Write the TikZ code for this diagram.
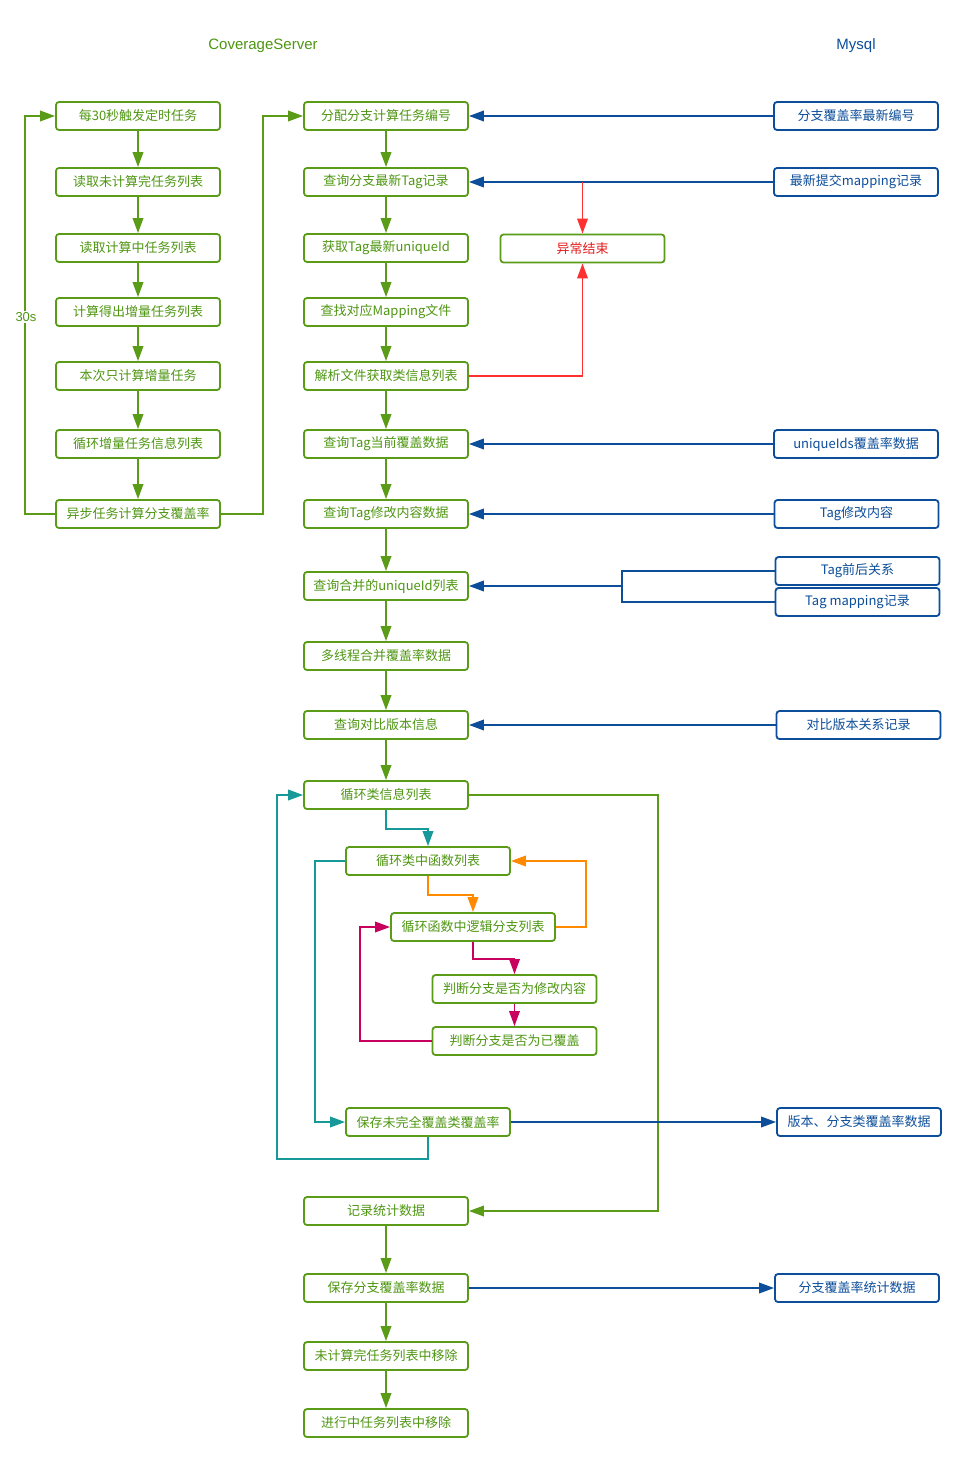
\documentclass[tikz,border=0pt]{standalone}
\usepackage{fontspec}
\newfontfamily\cjk{Noto Sans CJK SC}
\newfontfamily\hdr{Liberation Sans}
\usetikzlibrary{arrows.meta,calc}
\definecolor{gC}{HTML}{5A9C18}
\definecolor{gT}{HTML}{4E9612}
\definecolor{bC}{HTML}{0D4E9A}
\definecolor{rC}{HTML}{FF3030}
\definecolor{rT}{HTML}{E41E1E}
\definecolor{tC}{HTML}{17999A}
\definecolor{oC}{HTML}{FF8A00}
\definecolor{mC}{HTML}{C8005E}
\tikzset{
  gbox/.style={draw=gC, line width=1.8pt, rounded corners=3pt, minimum width=164pt, minimum height=28pt, inner sep=0pt, text=gT, fill=white, font=\cjk\fontsize{13}{15}\selectfont},
  bbox/.style={gbox, draw=bC, text=bC},
  conn/.style={line width=1.9pt, -{Triangle[length=15pt,width=10.5pt]}},
  gar/.style={conn, draw=gC},
  bar/.style={conn, draw=bC},
  rar/.style={conn, draw=rC},
  tar/.style={conn, draw=tC},
  oar/.style={conn, draw=oC},
  mar/.style={conn, draw=mC},
  bline/.style={line width=1.9pt, draw=bC},
}
\begin{document}
\begin{tikzpicture}[x=1pt,y=-1pt]
\useasboundingbox (0,0) rectangle (966,1461);
\fill[white] (0,0) rectangle (966,1461);
% headers
\node[text=gT, font=\hdr\fontsize{15}{17}\selectfont] (hcs) at (263,46) {CoverageServer};
\node[text=bC, font=\hdr\fontsize{15}{17}\selectfont] (hmy) at (856,46) {Mysql};
% left column
\node[gbox] (l1) at (138,116) {每30秒触发定时任务};
\node[gbox] (l2) at (138,182) {读取未计算完任务列表};
\node[gbox] (l3) at (138,248) {读取计算中任务列表};
\node[gbox] (l4) at (138,312) {计算得出增量任务列表};
\node[gbox] (l5) at (138,376) {本次只计算增量任务};
\node[gbox] (l6) at (138,444) {循环增量任务信息列表};
\node[gbox] (l7) at (138,514) {异步任务计算分支覆盖率};
% middle column
\node[gbox] (m1) at (386,116) {分配分支计算任务编号};
\node[gbox] (m2) at (386,182) {查询分支最新Tag记录};
\node[gbox] (m3) at (386,248) {获取Tag最新uniqueId};
\node[gbox] (m4) at (386,312) {查找对应Mapping文件};
\node[gbox] (m5) at (386,376) {解析文件获取类信息列表};
\node[gbox] (m6) at (386,444) {查询Tag当前覆盖数据};
\node[gbox] (m7) at (386,514) {查询Tag修改内容数据};
\node[gbox] (m8) at (386,586) {查询合并的uniqueId列表};
\node[gbox] (m9) at (386,656) {多线程合并覆盖率数据};
\node[gbox] (m10) at (386,725) {查询对比版本信息};
\node[gbox] (m11) at (386,795) {循环类信息列表};
\node[gbox] (m12) at (386,1211) {记录统计数据};
\node[gbox] (m13) at (386,1288) {保存分支覆盖率数据};
\node[gbox] (m14) at (386,1356) {未计算完任务列表中移除};
\node[gbox] (m15) at (386,1423) {进行中任务列表中移除};
% inner loop boxes
\node[gbox] (c1) at (428,861) {循环类中函数列表};
\node[gbox] (c2) at (473,927) {循环函数中逻辑分支列表};
\node[gbox] (c3) at (514.5,989) {判断分支是否为修改内容};
\node[gbox] (c4) at (514.5,1041) {判断分支是否为已覆盖};
\node[gbox] (c5) at (428,1122) {保存未完全覆盖类覆盖率};
% error box
\node[gbox, text=rT] (err) at (582.5,248.5) {异常结束};
% mysql boxes
\node[bbox] (b1) at (856,116) {分支覆盖率最新编号};
\node[bbox] (b2) at (856,182) {最新提交mapping记录};
\node[bbox] (b3) at (856,444) {uniqueIds覆盖率数据};
\node[bbox] (b4) at (856.5,514) {Tag修改内容};
\node[bbox] (b5) at (857.5,571) {Tag前后关系};
\node[bbox] (b6) at (857.5,602) {Tag mapping记录};
\node[bbox] (b7) at (858.5,725) {对比版本关系记录};
\node[bbox] (b8) at (859,1122) {版本、分支类覆盖率数据};
\node[bbox] (b9) at (857,1288) {分支覆盖率统计数据};
% left chain
\foreach \a/\b in {l1/l2,l2/l3,l3/l4,l4/l5,l5/l6,l6/l7}
  \draw[gar] (\a) -- (\b);
% middle chain
\foreach \a/\b in {m1/m2,m2/m3,m3/m4,m4/m5,m5/m6,m6/m7,m7/m8,m8/m9,m9/m10,m10/m11,m12/m13,m13/m14,m14/m15}
  \draw[gar] (\a) -- (\b);
% 30s loop
\draw[gar] (l7.west) -- ++(-30,0) |- (l1.west);
\node[fill=white, text=gT, inner sep=1.5pt, font=\hdr\fontsize{13}{15}\selectfont] (lbl30) at (26,317) {30s};
% to middle column
\draw[gar] (l7.east) -- ++(42,0) |- (m1.west);
% mysql arrows
\draw[bar] (b1) -- (m1);
\draw[bar] (b2) -- (m2);
\draw[bar] (b3) -- (m6);
\draw[bar] (b4) -- (m7);
\draw[bar] (b7) -- (m10);
\coordinate (jx) at (622,586);
\draw[bline] (b5.west) -| (jx |- b6.west) -- (b6.west);
\draw[bar] (jx) -- (m8.east);
% red error arrows
\draw[rar] (err.north |- m2.east) -- (err.north);
\draw[rar] (m5.east) -| (err.south);
% class loop
\draw[tar] (m11.south) -- ++(0,19) -| (c1.north);
\draw[tar] (c1.west) -- ++(-30,0) |- (c5.west);
\draw[tar] (c5.south) |- (277,1159) |- (m11.west);
% function loop
\draw[oar] (c1.south) -- ++(0,19) -| (c2.north);
\draw[oar] (c2.east) -- ++(30,0) |- (c1.east);
% branch loop
\draw[mar] (c2.south) -- ++(0,17) -| (c3.north);
\draw[mar] (c3) -- (c4);
\draw[mar] (c4.west) -- ++(-72,0) |- (c2.west);
% end of class loop
\draw[gar] (m11.east) -- ++(189,0) |- (m12.east);
% save arrows
\draw[bar] (c5.east) -- (b8.west);
\draw[bar] (m13.east) -- (b9.west);
\end{tikzpicture}
\end{document}
